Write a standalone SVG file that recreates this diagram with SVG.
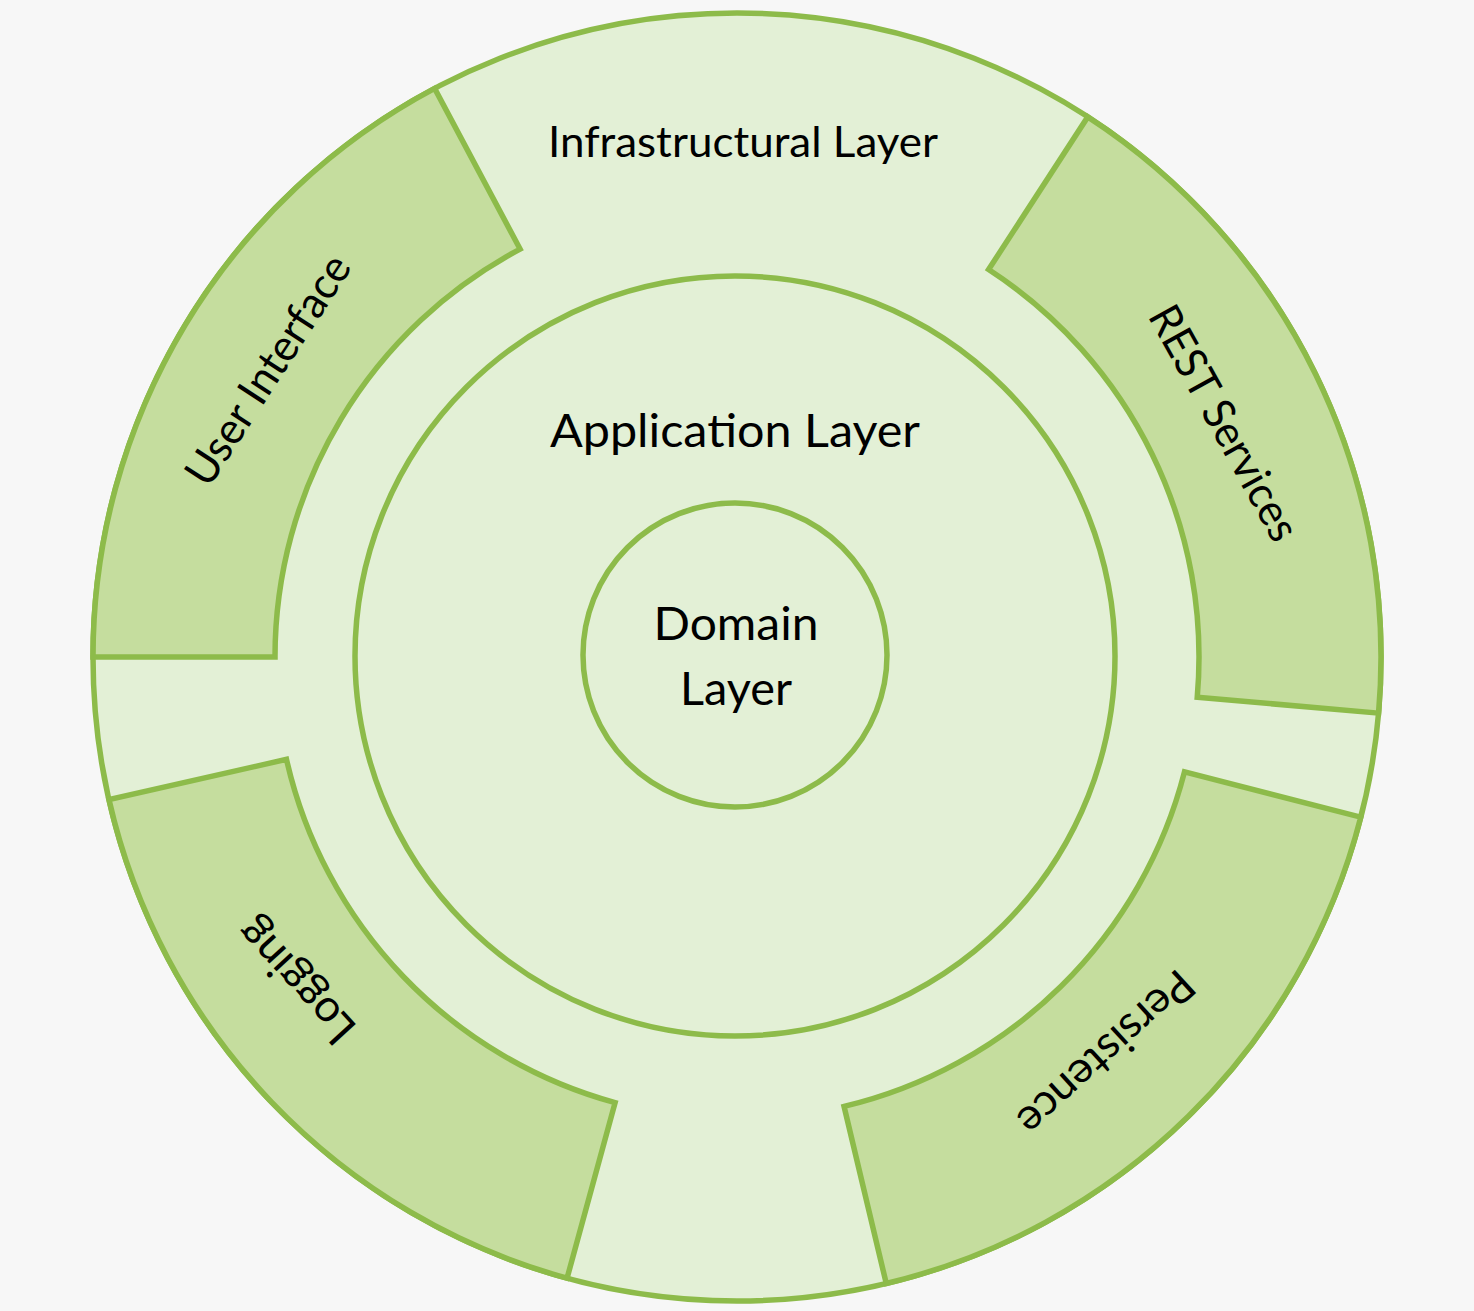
<svg xmlns="http://www.w3.org/2000/svg" width="1474" height="1311" viewBox="0 0 1474 1311">
<style>
.ring{fill:#e3f0d6;stroke:#8dbb4a;stroke-width:5.5}
.seg{fill:#c5dd9e;stroke:#8dbb4a;stroke-width:5.5;stroke-linejoin:miter}
.t{font-family:Lato,"Open Sans","Liberation Sans",sans-serif;fill:#000;text-anchor:middle}
</style>
<rect width="1474" height="1311" fill="#f7f7f7"/>
<g id="infrastructural-layer">
<circle class="ring" cx="737" cy="657" r="644"/>
<text class="t" x="743" y="157" font-size="43" textLength="390" lengthAdjust="spacingAndGlyphs">Infrastructural Layer</text>
</g>
<g id="user-interface">
<path class="seg" d="M434.66,88.38 A644,644 0 0 0 93,657 L275,657 A462,462 0 0 1 520.10,249.08 Z"/>
<text class="t" transform="translate(268,370) rotate(-57)" x="0" y="15" font-size="44" textLength="265" lengthAdjust="spacingAndGlyphs">User Interface</text>
</g>
<g id="rest-services">
<path class="seg" d="M1087.75,116.90 A644,644 0 0 1 1378.55,713.13 L1197.24,697.27 A462,462 0 0 0 988.62,269.53 Z"/>
<text class="t" transform="translate(1224,423) rotate(61)" x="0" y="15" font-size="44" textLength="262" lengthAdjust="spacingAndGlyphs">REST Services</text>
</g>
<g id="persistence">
<path class="seg" d="M1360.77,817.16 A644,644 0 0 1 886.25,1283.47 L844.07,1106.42 A462,462 0 0 0 1184.48,771.89 Z"/>
<text class="t" transform="translate(1106,1053) rotate(137.5)" x="0" y="15" font-size="44" textLength="222" lengthAdjust="spacingAndGlyphs">Persistence</text>
</g>
<g id="logging">
<path class="seg" d="M109.00,799.68 A644,644 0 0 0 567.07,1278.18 L615.09,1102.63 A462,462 0 0 1 286.48,759.36 Z"/>
<text class="t" transform="translate(296,981) rotate(-132.5)" x="0" y="15" font-size="45" textLength="152" lengthAdjust="spacingAndGlyphs">Logging</text>
</g>
<g id="application-layer">
<circle class="ring" cx="735" cy="656" r="380"/>
<text class="t" x="735" y="447" font-size="47" textLength="370" lengthAdjust="spacingAndGlyphs">Application Layer</text>
</g>
<g id="domain-layer">
<circle class="ring" cx="735" cy="655" r="152"/>
<text class="t" x="736" y="640" font-size="47" textLength="165" lengthAdjust="spacingAndGlyphs">Domain</text>
<text class="t" x="736" y="705" font-size="47" textLength="112" lengthAdjust="spacingAndGlyphs">Layer</text>
</g>
<g id="connectors"/>
</svg>
